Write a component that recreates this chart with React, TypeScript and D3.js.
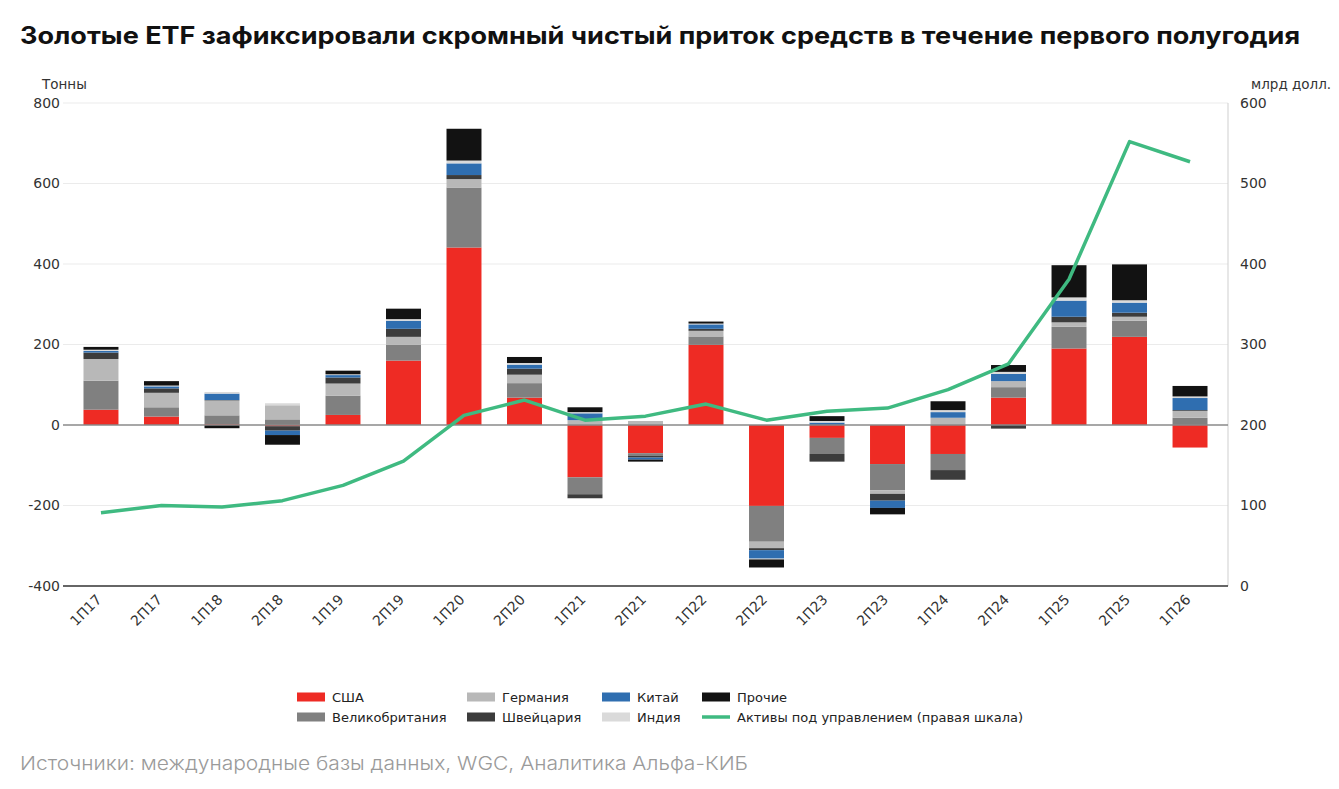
import React from 'react';
import * as d3 from 'd3';

const categories = ['1П17','2П17','1П18','2П18','1П19','2П19','1П20','2П20','1П21','2П21','1П22','2П22','1П23','2П23','1П24','2П24','1П25','2П25','1П26'];

const usa = [38, 21, 2, -3, 25, 160, 441, 68, -130, -70, 199, -201, -32, -97, -72, 68, 190, 219, -56];
const uk = [72, 23, 22, 14, 48, 39, 149, 36, -42, -6, 21, -89, -40, -65, -40, 26, 54, 40, 18];
const germany = [54, 36, 37, 35, 30, 20, 21, 21, 12, 10, 14, -16, 0, -9, 18, 15, 11, 10, 17];
const switzerland = [16, 11, 1, -11, 15, 20, 10, 15, -10, -5, 5, -5, -19, -17, -24, -9, 14, 10, 2];
const china = [4, 5, 16, -11, 6, 20, 29, 10, 17, -5, 11, -21, 6, -18, 14, 18, 40, 25, 30];
const india = [3, 2, 4, 5, 2, 4, 7, 4, 3, 0, 2, -2, 4, 0, 5, 5, 8, 6, 4];
const others = [7, 11, -8, -24, 9, 26, 79, 15, 12, -5, 5, -20, 12, -16, 22, 17, 80, 89, 26];

const aum = [91, 100, 98, 106, 125, 155, 212, 231, 206, 211, 226, 206, 217, 221, 244, 276, 381, 552, 527];

const leftTicks = [-400, -200, 0, 200, 400, 600, 800];
const rightTicks = [0, 100, 200, 300, 400, 500, 600];

const seriesNames = ['США', 'Великобритания', 'Германия', 'Швейцария', 'Китай', 'Индия', 'Прочие'];
const seriesValues = [usa, uk, germany, switzerland, china, india, others];
const seriesColors = ['#ee2b24', '#808080', '#b8b8b8', '#3c3c3c', '#2f6eb0', '#dadada', '#121212'];
const lineName = 'Активы под управлением (правая шкала)';
const lineColor = '#3fba81';

const title = 'Золотые ETF зафиксировали скромный чистый приток средств в течение первого полугодия';
const source = 'Источники: международные базы данных, WGC, Аналитика Альфа-КИБ';
const leftUnit = 'Тонны';
const rightUnit = 'млрд долл.';

export default function App() {
  const W = 1339, H = 789;
  const plotL = 63, plotR = 1228, top = 103, bottom = 586;
  const x = d3.scaleBand<string>().domain(categories).range([70, 1221]).paddingInner(0.422).paddingOuter(0.223);
  const y = d3.scaleLinear().domain([-400, 800]).range([bottom, top]);
  const yR = d3.scaleLinear().domain([0, 600]).range([bottom, top]);

  const rows = categories.map((c, i) => {
    const r: any = { cat: c };
    seriesNames.forEach((n, k) => { r[n] = seriesValues[k][i]; });
    return r;
  });
  const stacked = d3.stack<any>().keys(seriesNames).offset(d3.stackOffsetDiverging)(rows);

  const cx = (c: string) => (x(c) as number) + x.bandwidth() / 2;
  const line = d3.line<number>().x((_, i) => cx(categories[i])).y(d => yR(d));

  const tickFont = '"DejaVu Sans", sans-serif';

  const legendCols = [297, 467, 602, 702];
  const legendRows = [697, 717];
  const legendItems = [
    ...seriesNames.map((n, k) => ({ name: n, color: seriesColors[k], line: false })),
    { name: lineName, color: lineColor, line: true },
  ];

  return (
    <svg width={W} height={H} style={{ position: 'absolute', left: 0, top: 0, background: '#fff' }}>
      <text x={20} y={43.5} fontFamily="Inter, sans-serif" fontWeight={700} fontSize={24} fill="#111"
        textLength={1280} lengthAdjust="spacingAndGlyphs">{title}</text>

      <text x={42} y={89} fontFamily={tickFont} fontSize={13.5} fill="#333">{leftUnit}</text>
      <text x={1251} y={89} fontFamily={tickFont} fontSize={13.5} fill="#333">{rightUnit}</text>

      {leftTicks.map(t => (
        <g key={'l' + t}>
          {t !== 0 && t !== -400 && (
            <line x1={plotL} x2={plotR} y1={y(t)} y2={y(t)} stroke="#ebebeb" strokeWidth={1} />
          )}
          <text x={60} y={y(t)} dy="0.35em" textAnchor="end" fontFamily={tickFont} fontSize={14} fill="#333">{t}</text>
        </g>
      ))}
      {rightTicks.map(t => (
        <text key={'r' + t} x={1240} y={yR(t)} dy="0.35em" textAnchor="start" fontFamily={tickFont} fontSize={14} fill="#333">{t}</text>
      ))}
      <line x1={plotR} x2={plotR} y1={top} y2={bottom} stroke="#cfcfcf" strokeWidth={1} />

      {stacked.map((s, k) => (
        <g key={s.key} fill={seriesColors[k]}>
          {s.map((d, i) => {
            const y0 = y(d[0]), y1 = y(d[1]);
            const h = Math.abs(y0 - y1);
            if (h < 0.01) return null;
            return <rect key={i} x={x(categories[i])} y={Math.min(y0, y1)} width={x.bandwidth()} height={h} />;
          })}
        </g>
      ))}

      <line x1={plotL} x2={plotR} y1={y(0)} y2={y(0)} stroke="#8a8a8a" strokeWidth={1.3} />
      <line x1={plotL} x2={plotR} y1={y(-400)} y2={y(-400)} stroke="#333" strokeWidth={1.3} />

      <path d={line(aum) || ''} fill="none" stroke={lineColor} strokeWidth={3.5} strokeLinejoin="round" />

      {categories.map(c => (
        <text key={'x' + c} transform={`translate(${cx(c) - 2},${597}) rotate(-45)`} dy="0.35em" textAnchor="end"
          fontFamily={tickFont} fontSize={14} fill="#333">{c}</text>
      ))}

      {legendItems.map((it, i) => {
        const col = i >> 1, row = i % 2;
        const lx = legendCols[col], ly = legendRows[row];
        return (
          <g key={'lg' + i}>
            {it.line
              ? <line x1={lx} x2={lx + 28} y1={ly} y2={ly} stroke={it.color} strokeWidth={3.5} />
              : <rect x={lx} y={ly - 4.5} width={28} height={9} fill={it.color} />}
            <text x={lx + 35} y={ly} dy="0.35em" fontFamily={tickFont} fontSize={13} fill="#222">{it.name}</text>
          </g>
        );
      })}

      <text x={20} y={770} fontFamily="Inter, sans-serif" fontWeight={300} fontSize={19} fill="#9a9a9a"
        textLength={728} lengthAdjust="spacingAndGlyphs">{source}</text>
    </svg>
  );
}
